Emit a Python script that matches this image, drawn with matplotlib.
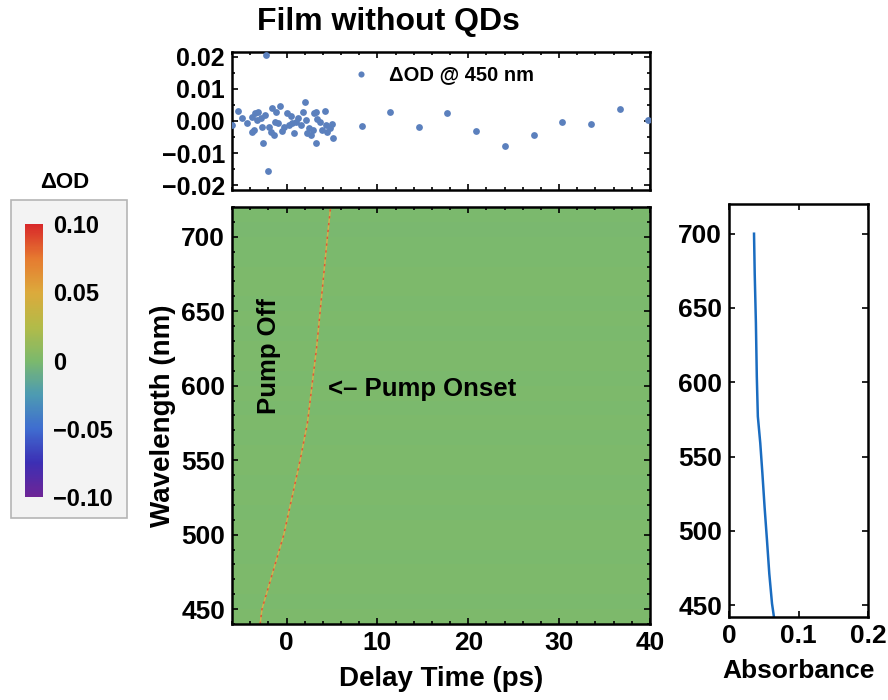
import matplotlib
matplotlib.use('Agg')
import numpy as np
import matplotlib.pyplot as plt
from matplotlib.colors import LinearSegmentedColormap, Normalize
from matplotlib.patches import Rectangle
from matplotlib.ticker import MultipleLocator

# Top panel: delta OD at 450 nm vs delay (ps)
DELAY_450 = [-5.98, -5.32, -4.88, -4.33, -3.85, -3.78, -3.60, -3.49, -3.23, -3.16,
             -2.86, -2.75, -2.61, -2.39, -2.24, -2.06, -1.95, -1.76, -1.58, -1.39,
             -1.29, -1.14, -0.92, -0.77, -0.48, -0.29, 0.07, 0.26, 0.44, 0.62,
             0.81, 1.06, 1.28, 1.54, 1.80, 1.98, 2.09, 2.28, 2.46, 2.64,
             2.90, 3.01, 3.27, 3.27, 3.38, 3.63, 3.93, 4.22, 4.30, 4.48,
             4.74, 4.96, 5.10,
             8.26, 11.38, 14.57, 17.70, 20.89, 24.04, 27.20, 30.36, 33.52, 36.67, 39.83]
DOD_450 = [-0.0013, 0.0031, 0.0010, -0.0007, -0.0033, 0.0013, -0.0028, 0.0024, 0.0003, 0.0029,
           0.0010, -0.0018, -0.0068, 0.0019, 0.0206, -0.0156, -0.0018, -0.0035, 0.0040, -0.0044,
           -0.0004, 0.0029, -0.0007, 0.0047, -0.0031, -0.0018, 0.0024, -0.0013, 0.0017, -0.0007,
           -0.0038, -0.0002, 0.0010, -0.0013, 0.0029, 0.0058, 0.0003, -0.0038, -0.0021, -0.0044,
           -0.0028, 0.0024, 0.0029, -0.0068, 0.0006, -0.0002, -0.0028, 0.0031, -0.0013, -0.0035,
           -0.0021, -0.0010, -0.0052,
           -0.0015, 0.0029, -0.0018, 0.0026, -0.0030, -0.0077, -0.0045, -0.0002, -0.0009, 0.0037, 0.0004]

# Pump onset (chirp) line on the map
CHIRP_DELAY = [-2.9, -2.7, -1.5, -0.3, 0.6, 1.5, 2.3, 2.8, 3.3, 3.7, 4.1, 4.5, 4.85]
CHIRP_WL = [440, 450, 475, 500, 525, 550, 575, 600, 625, 650, 675, 700, 720]

# Map background: faint wavelength bands of delta OD
BAND_EDGES_WL = [440, 450, 460, 470, 480, 490, 500, 510, 520, 530, 540, 550, 560, 570,
                 580, 590, 600, 610, 620, 630, 640, 650, 660, 670, 680, 690, 700, 710, 720]
BAND_DOD = [0.0004, -0.0006, 0.0002, 0.0006, -0.0004, 0.0003, 0.0007, -0.0002, 0.0004, -0.0005,
            0.0002, 0.0005, -0.0003, 0.0001, -0.0006, 0.0003, -0.0004, 0.0005, 0.0002, -0.0003,
            0.0004, -0.0005, 0.0001, 0.0005, -0.0002, -0.0006, -0.0009, -0.0004]
MAP_DELAY_EDGES = [-6, 40]

# Right panel: absorbance spectrum
ABS_WL = [700, 673, 640, 604, 577, 559, 539, 516, 494, 471, 451, 441]
ABS_VALUE = [0.036, 0.037, 0.0387, 0.040, 0.0415, 0.045, 0.048, 0.0512, 0.0546, 0.058, 0.0619, 0.065]

# Colour scale
CMAP_VALUES = [-0.1, -0.075, -0.05, -0.025, 0.0, 0.025, 0.05, 0.075, 0.1]
CMAP_COLORS = ['#6e2596', '#3c2fb4', '#3f6dd0', '#4d9bb2', '#7cb96c',
               '#b3bb48', '#dcaa3c', '#e67a30', '#d8282a']
CBAR_TICKS = [-0.1, -0.05, 0.0, 0.05, 0.1]
CBAR_LABELS = ['\u22120.10', '\u22120.05', '0', '0.05', '0.10']

POINT_COLOR = '#5b80bd'
ABS_COLOR = '#1a6cc0'
TICK_SIZE = 19
LABEL_SIZE = 20


def style_frame(ax, labelsize=TICK_SIZE):
    for s in ax.spines.values():
        s.set_linewidth(1.8)
    ax.tick_params(which='both', direction='in', top=True, right=True, width=1.2)
    ax.tick_params(which='major', length=4.5, labelsize=labelsize, pad=5)
    ax.tick_params(which='minor', length=2.5)


def make_cmap():
    lo, hi = CMAP_VALUES[0], CMAP_VALUES[-1]
    pos = [(v - lo) / (hi - lo) for v in CMAP_VALUES]
    return LinearSegmentedColormap.from_list('rainbow_od', list(zip(pos, CMAP_COLORS)))


def plot_top(fig):
    ax = fig.add_axes([232 / 888, 1 - 190 / 700, 418 / 888, 138 / 700])
    ax.scatter(DELAY_450, DOD_450, s=24, color=POINT_COLOR, linewidths=0,
               label='\u0394OD @ 450 nm', zorder=3)
    ax.set_xlim(-6, 40)
    ax.set_ylim(-0.0215, 0.0215)
    ax.xaxis.set_major_locator(MultipleLocator(10))
    ax.xaxis.set_minor_locator(MultipleLocator(2))
    ax.yaxis.set_minor_locator(MultipleLocator(0.005))
    ax.set_yticks([-0.02, -0.01, 0.0, 0.01, 0.02])
    ax.set_yticklabels(['\u22120.02', '\u22120.01', '0.00', '0.01', '0.02'])
    style_frame(ax, labelsize=18)
    ax.tick_params(labelbottom=False)
    ax.legend(loc='center left', bbox_to_anchor=(0.218, 0.84), frameon=False,
              fontsize=14.5, handletextpad=0.35, markerscale=0.9)
    fig.text(388 / 888, 1 - 22 / 700, 'Film without QDs', ha='center', va='center',
             fontsize=23)
    return ax


def plot_map(fig, cmap, norm):
    ax = fig.add_axes([232 / 888, 1 - 624 / 700, 418 / 888, 417 / 700])
    z = np.array(BAND_DOD).reshape(-1, 1)
    ax.pcolormesh(MAP_DELAY_EDGES, BAND_EDGES_WL, z, cmap=cmap, norm=norm, shading='flat')
    ax.plot(CHIRP_DELAY, CHIRP_WL, color='#d2b14e', lw=1.1)
    ax.plot(CHIRP_DELAY, CHIRP_WL, color='#d9583a', lw=1.1, dashes=(1.5, 3.0))
    ax.set_xlim(-6, 40)
    ax.set_ylim(440, 720)
    ax.xaxis.set_major_locator(MultipleLocator(10))
    ax.xaxis.set_minor_locator(MultipleLocator(2))
    ax.yaxis.set_major_locator(MultipleLocator(50))
    ax.yaxis.set_minor_locator(MultipleLocator(10))
    style_frame(ax)
    ax.set_xlabel('Delay Time (ps)', fontsize=LABEL_SIZE, labelpad=8)
    ax.set_ylabel('Wavelength (nm)', fontsize=LABEL_SIZE, labelpad=4)
    ax.text(-1.9, 620, 'Pump Off', rotation=90, ha='center', va='center', fontsize=18.5)
    ax.text(4.6, 598, '<\u2013 Pump Onset', ha='left', va='center', fontsize=18.5)
    return ax


def plot_absorbance(fig):
    ax = fig.add_axes([729 / 888, 1 - 617 / 700, 139 / 888, 413 / 700])
    ax.plot(ABS_VALUE, ABS_WL, color=ABS_COLOR, lw=1.8)
    ax.set_xlim(0, 0.2)
    ax.set_ylim(442, 720)
    ax.set_xticks([0, 0.1, 0.2])
    ax.set_xticklabels(['0', '0.1', '0.2'])
    ax.yaxis.set_major_locator(MultipleLocator(50))
    style_frame(ax)
    ax.set_xlabel('Absorbance', fontsize=19, labelpad=8)
    return ax


def plot_colorbar(fig, cmap, norm):
    box = Rectangle((11 / 888, 1 - 518 / 700), 116 / 888, 318 / 700,
                    transform=fig.transFigure, facecolor='#f3f3f3',
                    edgecolor='#b5b5b5', lw=1.2, zorder=-1)
    fig.patches.append(box)
    cax = fig.add_axes([25 / 888, 1 - 497 / 700, 18 / 888, 273 / 700])
    cax.set_zorder(5)
    sm = plt.cm.ScalarMappable(norm=norm, cmap=cmap)
    cb = fig.colorbar(sm, cax=cax, ticks=CBAR_TICKS)
    cb.ax.set_yticklabels(CBAR_LABELS)
    cb.outline.set_visible(False)
    cb.ax.tick_params(length=0, labelsize=17, pad=7)
    fig.text(65 / 888, 1 - 183 / 700, '\u0394OD', ha='center', va='center', fontsize=16)


def main():
    plt.rcParams['font.family'] = ['Liberation Sans', 'DejaVu Sans']
    plt.rcParams['font.weight'] = 'bold'
    plt.rcParams['axes.titleweight'] = 'bold'
    plt.rcParams['axes.labelweight'] = 'bold'

    cmap = make_cmap()
    norm = Normalize(vmin=-0.1, vmax=0.1)

    fig = plt.figure(figsize=(8.88, 7.0), dpi=100)
    plot_top(fig)
    plot_map(fig, cmap, norm)
    plot_absorbance(fig)
    plot_colorbar(fig, cmap, norm)
    fig.savefig('out.png', dpi=100)


if __name__ == "__main__":
    main()
